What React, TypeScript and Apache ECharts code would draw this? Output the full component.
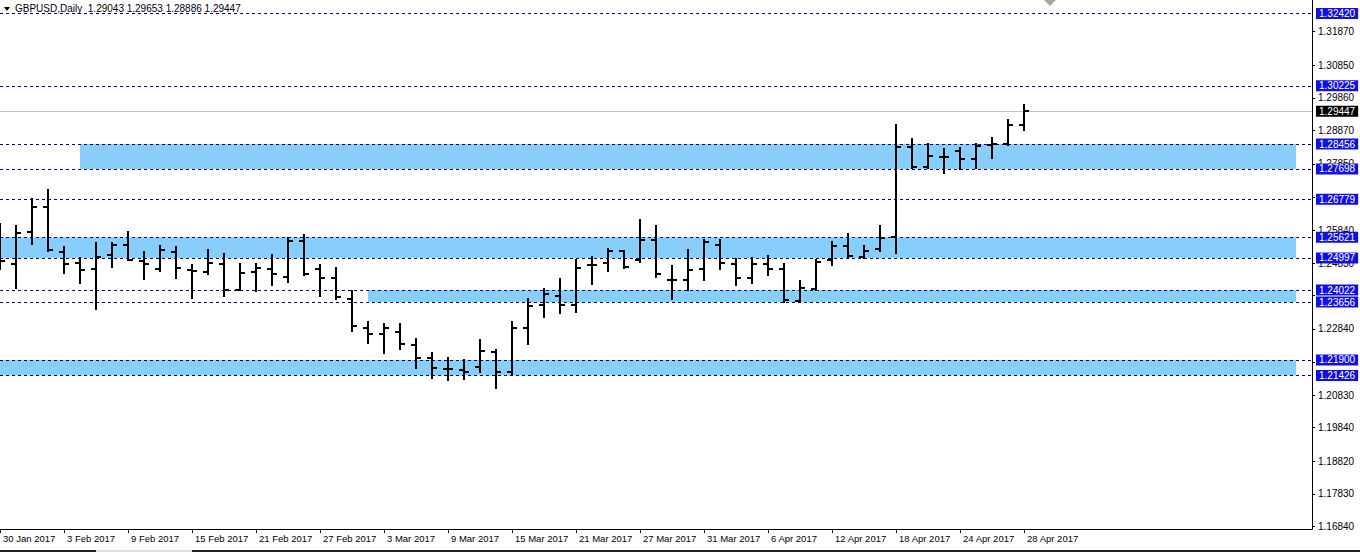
import React, { useEffect, useRef } from 'react';
import * as echarts from 'echarts';

const dates = [
  '30 Jan 2017', '31 Jan 2017',
  '1 Feb 2017', '2 Feb 2017', '3 Feb 2017', '6 Feb 2017', '7 Feb 2017', '8 Feb 2017', '9 Feb 2017', '10 Feb 2017',
  '13 Feb 2017', '14 Feb 2017', '15 Feb 2017', '16 Feb 2017', '17 Feb 2017', '20 Feb 2017', '21 Feb 2017', '22 Feb 2017',
  '23 Feb 2017', '24 Feb 2017', '27 Feb 2017', '28 Feb 2017',
  '1 Mar 2017', '2 Mar 2017', '3 Mar 2017', '6 Mar 2017', '7 Mar 2017', '8 Mar 2017', '9 Mar 2017', '10 Mar 2017',
  '13 Mar 2017', '14 Mar 2017', '15 Mar 2017', '16 Mar 2017', '17 Mar 2017', '20 Mar 2017', '21 Mar 2017', '22 Mar 2017',
  '23 Mar 2017', '24 Mar 2017', '27 Mar 2017', '28 Mar 2017', '29 Mar 2017', '30 Mar 2017', '31 Mar 2017',
  '3 Apr 2017', '4 Apr 2017', '5 Apr 2017', '6 Apr 2017', '7 Apr 2017', '10 Apr 2017', '11 Apr 2017', '12 Apr 2017',
  '13 Apr 2017', '14 Apr 2017', '17 Apr 2017', '18 Apr 2017', '19 Apr 2017', '20 Apr 2017', '21 Apr 2017',
  '24 Apr 2017', '25 Apr 2017', '26 Apr 2017', '27 Apr 2017', '28 Apr 2017',
];

const opens = [
  1.25496, 1.24798, 1.25770, 1.26529, 1.25162, 1.24828, 1.24646, 1.25071, 1.25375, 1.24889,
  1.24646, 1.25162, 1.24616, 1.24555, 1.24798, 1.24008, 1.24555, 1.24646, 1.24403, 1.25496,
  1.24646, 1.24373, 1.23735, 1.22854, 1.22672, 1.22733, 1.22338, 1.21943, 1.21609, 1.21579,
  1.21670, 1.22126, 1.21518, 1.22854, 1.23553, 1.23826, 1.23553, 1.24768, 1.24828, 1.25193,
  1.24919, 1.25527, 1.24312, 1.24312, 1.24646, 1.25375, 1.24798, 1.24373, 1.24798, 1.24646,
  1.23674, 1.24039, 1.24919, 1.25345, 1.25010, 1.25253, 1.25618, 1.28351, 1.27744, 1.28047,
  1.28229, 1.27986, 1.28412, 1.28442, 1.29043,
];
const highs = [
  1.26013, 1.25952, 1.26772, 1.27045, 1.25314, 1.24980, 1.25436, 1.25436, 1.25770, 1.25162,
  1.25345, 1.25314, 1.24768, 1.25223, 1.25102, 1.24798, 1.24798, 1.25071, 1.25587, 1.25679,
  1.24768, 1.24676, 1.23978, 1.23037, 1.22976, 1.22976, 1.22520, 1.22095, 1.21943, 1.21883,
  1.22490, 1.22186, 1.23037, 1.23735, 1.24039, 1.24342, 1.24919, 1.25010, 1.25253, 1.25193,
  1.26134, 1.25952, 1.24737, 1.25223, 1.25527, 1.25527, 1.24950, 1.24980, 1.25041, 1.24798,
  1.24282, 1.24919, 1.25466, 1.25709, 1.25345, 1.25952, 1.29019, 1.28594, 1.28442, 1.28290,
  1.28320, 1.28442, 1.28624, 1.29171, 1.29653,
];
const lows = [
  1.24646, 1.24069, 1.25405, 1.25193, 1.24525, 1.24221, 1.23431, 1.24707, 1.24919, 1.24342,
  1.24585, 1.24373, 1.23765, 1.24494, 1.23826, 1.24008, 1.23978, 1.24160, 1.24251, 1.24464,
  1.23826, 1.23735, 1.22763, 1.22399, 1.22095, 1.22217, 1.21640, 1.21336, 1.21275, 1.21306,
  1.21518, 1.21032, 1.21458, 1.22369, 1.23188, 1.23310, 1.23340, 1.24191, 1.24585, 1.24676,
  1.24859, 1.24403, 1.23735, 1.24008, 1.24312, 1.24646, 1.24160, 1.24221, 1.24464, 1.23644,
  1.23644, 1.24008, 1.24768, 1.24980, 1.24980, 1.25193, 1.25132, 1.27713, 1.27713, 1.27561,
  1.27683, 1.27713, 1.28017, 1.28412, 1.28886,
];
const closes = [
  1.24889, 1.25739, 1.26529, 1.25223, 1.24798, 1.24616, 1.25010, 1.25375, 1.24919, 1.24798,
  1.25223, 1.24676, 1.24585, 1.24828, 1.24008, 1.24525, 1.24676, 1.24494, 1.25496, 1.24494,
  1.24373, 1.23796, 1.22915, 1.22672, 1.22854, 1.22369, 1.21943, 1.21640, 1.21609, 1.21518,
  1.22156, 1.21518, 1.22854, 1.23522, 1.23887, 1.23553, 1.24676, 1.24768, 1.25193, 1.24707,
  1.25527, 1.24494, 1.24312, 1.24616, 1.25466, 1.24828, 1.24373, 1.24798, 1.24646, 1.23705,
  1.24069, 1.24859, 1.25345, 1.25041, 1.25193, 1.25587, 1.28351, 1.27744, 1.28078, 1.28047,
  1.27986, 1.28381, 1.28442, 1.29019, 1.29447,
];

const futureSlots = 18;

// price axis ticks / labels
const yTickValues = [1.16840, 1.17830, 1.18820, 1.19840, 1.20830, 1.21840, 1.22840, 1.23850, 1.24830, 1.25840, 1.26850, 1.27850, 1.28870, 1.29860, 1.30850, 1.31870];
const yLabelValues = [1.16840, 1.17830, 1.18820, 1.19840, 1.20830, 1.22840, 1.24830, 1.25840, 1.27850, 1.28870, 1.29860, 1.30850, 1.31870];
const yMin = 1.16765;
const yMax = 1.32829;

// horizontal levels (dashed)
const levels = [1.32420, 1.30225, 1.28456, 1.27698, 1.26779, 1.25621, 1.24997, 1.24022, 1.23656, 1.21900, 1.21426];
const currentPrice = 1.29447;

// shaded zones
const zoneLows = [1.27698, 1.24997, 1.23656, 1.21426];
const zoneHighs = [1.28456, 1.25621, 1.24022, 1.21900];
const zoneStarts = [5, 0, 23, 0];
const zoneEnd = 81;

const title = 'GBPUSD,Daily  1.29043 1.29653 1.28886 1.29447';
const FONT = '"Liberation Sans", Arial, sans-serif';

export default function App() {
  const ref = useRef<HTMLDivElement>(null);
  useEffect(() => {
    const chart = echarts.init(ref.current!, null, { renderer: 'svg' });
    const categories = [
      ...dates,
      ...Array.from({ length: futureSlots }, (_, i) => `+${i + 1}`),
    ];
    const ohlc = dates.map((_, i) => [i, opens[i], highs[i], lows[i], closes[i]]);
    const showIdx = (i: number) => i % 4 === 0 && i < dates.length;

    const option: any = {
      animation: false,
      backgroundColor: '#ffffff',
      grid: { left: 0, top: 0, width: 1312, height: 529, containLabel: false },
      xAxis: {
        type: 'category',
        data: categories,
        boundaryGap: false,
        axisLine: { show: true, lineStyle: { color: '#000', width: 1 } },
        axisTick: { show: true, interval: (i: number) => showIdx(i), length: 4, lineStyle: { color: '#000' } },
        axisLabel: {
          interval: (i: number) => showIdx(i),
          align: 'left',
          margin: 4,
          fontFamily: FONT,
          fontSize: 9.5,
          color: '#000',
          padding: [0, 0, 0, 3],
        },
        splitLine: { show: false },
      },
      yAxis: {
        type: 'value',
        position: 'right',
        min: yMin,
        max: yMax,
        axisLine: { show: true, lineStyle: { color: '#000', width: 1 } },
        axisTick: { show: true, customValues: yTickValues, length: 3, lineStyle: { color: '#000' } },
        axisLabel: {
          customValues: yLabelValues,
          formatter: (v: number) => v.toFixed(5),
          margin: 6,
          fontFamily: FONT,
          fontSize: 10,
          color: '#000',
        },
        splitLine: { show: false },
      },
      series: [
        {
          type: 'custom',
          z: 3,
          encode: { x: 0, y: [1, 2, 3, 4] },
          data: ohlc,
          renderItem: (params: any, api: any) => {
            const idx = api.value(0);
            const pO = api.coord([idx, api.value(1)]);
            const pH = api.coord([idx, api.value(2)]);
            const pL = api.coord([idx, api.value(3)]);
            const pC = api.coord([idx, api.value(4)]);
            const x = Math.round(pO[0]);
            const yo = Math.round(pO[1]);
            const yc = Math.round(pC[1]);
            const st = { stroke: '#000000', lineWidth: 2 };
            return {
              type: 'group',
              children: [
                { type: 'line', shape: { x1: x, y1: Math.round(pH[1]) - 1, x2: x, y2: Math.round(pL[1]) + 1 }, style: st },
                { type: 'line', shape: { x1: x - 5, y1: yo, x2: x, y2: yo }, style: st },
                { type: 'line', shape: { x1: x, y1: yc, x2: x + 5, y2: yc }, style: st },
              ],
            };
          },
          markArea: {
            silent: true,
            z: 1,
            itemStyle: { color: '#87cefa', opacity: 1 },
            data: zoneLows.map((lo, i) => [
              { xAxis: zoneStarts[i], yAxis: lo },
              { xAxis: zoneEnd, yAxis: zoneHighs[i] },
            ]),
          },
          markLine: {
            silent: true,
            z: 2,
            symbol: ['none', 'none'],
            precision: 5,
            lineStyle: { color: '#000080', type: [3, 3], width: 1 },
            label: {
              show: true,
              position: 'end',
              distance: 4,
              formatter: (p: any) => Number(p.value).toFixed(5),
              color: '#ffffff',
              backgroundColor: '#1010e0',
              padding: [1, 3, 0, 3],
              fontFamily: FONT,
              fontSize: 10,
            },
            data: [
              ...levels.map((v) => ({ yAxis: v })),
              {
                yAxis: currentPrice,
                lineStyle: { color: '#c0c0c0', type: 'solid', width: 1 },
                label: { backgroundColor: '#000000', color: '#ffffff' },
              },
            ],
          },
        },
      ],
      graphic: [
        { type: 'polygon', shape: { points: [[4, 7], [10, 7], [7, 11]] }, style: { fill: '#000' } },
        {
          type: 'text', x: 15, y: 3,
          style: { text: title, fill: '#000', fontFamily: FONT, fontSize: 10 },
        },
        { type: 'polygon', shape: { points: [[1044, 0], [1056, 0], [1050, 6]] }, style: { fill: '#a8a8a8' } },
        { type: 'line', shape: { x1: 0, y1: 551, x2: 96, y2: 551 }, style: { stroke: '#202020', lineWidth: 2 } },
        { type: 'line', shape: { x1: 96, y1: 551, x2: 192, y2: 551 }, style: { stroke: '#e0e0e0', lineWidth: 2 } },
        { type: 'line', shape: { x1: 192, y1: 551, x2: 1360, y2: 551 }, style: { stroke: '#202020', lineWidth: 2 } },
      ],
    };
    chart.setOption(option);
    return () => chart.dispose();
  }, []);
  return (
    <div
      ref={ref}
      style={{ position: 'fixed', left: 0, top: 0, width: 1360, height: 553, background: '#fff' }}
    />
  );
}
